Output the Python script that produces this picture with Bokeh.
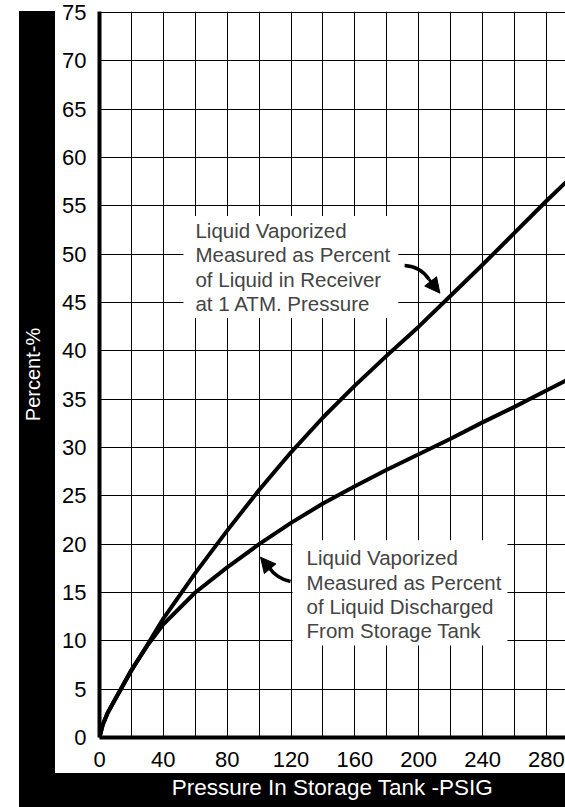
from bokeh.plotting import figure
from bokeh.models import FixedTicker, Label, Arrow, NormalHead, Range1d
from bokeh.embed import file_html
from bokeh.resources import INLINE

# ---- data ----
pressure = [0, 2, 5, 10, 20, 30, 40, 60, 80, 100, 120, 140, 160, 180, 200, 220, 240, 260, 280, 292]
pct_receiver = [0, 1.3, 2.5, 4.0, 6.9, 9.6, 12.3, 17.0, 21.4, 25.6, 29.5, 33.1, 36.4, 39.5, 42.5, 45.7, 48.9, 52.2, 55.5, 57.4]
pct_discharged = [0, 1.3, 2.5, 4.0, 7.0, 9.5, 11.7, 15.0, 17.6, 20.0, 22.2, 24.2, 26.0, 27.7, 29.3, 30.9, 32.6, 34.2, 35.9, 36.9]

x_tick_labels = [0, 40, 80, 120, 160, 200, 240, 280]
x_grid_ticks = [0, 20, 40, 60, 80, 100, 120, 140, 160, 180, 200, 220, 240, 260, 280]
y_tick_labels = [0, 5, 10, 15, 20, 25, 30, 35, 40, 45, 50, 55, 60, 65, 70, 75]

note_receiver = "Liquid Vaporized\nMeasured as Percent\nof Liquid in Receiver\nat 1 ATM. Pressure"
note_discharged = "Liquid Vaporized\nMeasured as Percent\nof Liquid Discharged\nFrom Storage Tank"

# annotation placement (data units; top-left corner of the white box)
note1_pos = (52.6, 53.95)
note2_pos = (121.0, 20.4)
arrow1 = dict(tail=(191.2, 48.83), ctrl=(201.2, 48.72), base=(206.4, 47.41), tip=(213.3, 45.96))
arrow2 = dict(tail=(119.7, 16.14), ctrl=(111.0, 16.45), base=(106.1, 17.62), tip=(100.9, 18.65))

FONT = "Liberation Sans"

p = figure(width=565, height=807, output_backend="svg", toolbar_location=None,
           x_range=Range1d(0, 292), y_range=Range1d(0, 75.1),
           min_border_left=99, min_border_right=0, min_border_top=11, min_border_bottom=70)
p.border_fill_color = None
p.background_fill_color = "white"
p.outline_line_color = None
p.styles = {
    "background": "linear-gradient(#000,#000) 19px 11px / 36px 796px no-repeat, "
                  "linear-gradient(#000,#000) 19px 773px / 546px 34px no-repeat, #fff"
}

# grid
p.xgrid.ticker = FixedTicker(ticks=x_grid_ticks)
p.ygrid.ticker = FixedTicker(ticks=y_tick_labels)
for g in (p.xgrid, p.ygrid):
    g.grid_line_color = "black"
    g.grid_line_width = 1
    g.grid_line_alpha = 1

# axes
p.xaxis.ticker = FixedTicker(ticks=x_tick_labels)
p.yaxis.ticker = FixedTicker(ticks=y_tick_labels)
for ax in (p.xaxis, p.yaxis):
    ax.axis_line_width = 4
    ax.axis_line_color = "black"
    ax.major_tick_in = 0
    ax.major_tick_out = 0
    ax.minor_tick_line_color = None
    ax.major_label_text_font = FONT
    ax.major_label_text_font_size = "22px"
    ax.major_label_text_color = "black"
    ax.axis_label_text_font = FONT
    ax.axis_label_text_font_style = "normal"
    ax.axis_label_text_color = "white"

p.xaxis.axis_label = "Pressure In Storage Tank -PSIG"
p.xaxis.axis_label_text_font_size = "22.5px"
p.xaxis.major_label_standoff = 14
p.xaxis.axis_label_standoff = 5

p.yaxis.axis_label = "Percent-%"
p.yaxis.axis_label_text_font_size = "20px"
p.yaxis.major_label_standoff = 13
p.yaxis.axis_label_standoff = 15

# curves
p.line(pressure, pct_receiver, line_color="black", line_width=4, line_cap="round", line_join="round")
p.line(pressure, pct_discharged, line_color="black", line_width=4, line_cap="round", line_join="round")

# notes
for txt, (nx, ny), pad in ((note_receiver, note1_pos, dict(left=12, right=8, top=3, bottom=3)),
                           (note_discharged, note2_pos, dict(left=14, right=6, top=6, bottom=3))):
    lab = Label(x=nx, y=ny, text=txt, text_font=FONT, text_font_size="20.5px",
                text_align="left", text_baseline="top", text_line_height=1.06,
                background_fill_color="white", background_fill_alpha=1.0, padding=pad)
    p.add_layout(lab)

# curved arrows
for a in (arrow1, arrow2):
    p.quadratic(x0=[a["tail"][0]], y0=[a["tail"][1]], x1=[a["base"][0]], y1=[a["base"][1]],
                cx=[a["ctrl"][0]], cy=[a["ctrl"][1]], line_color="black", line_width=3.5)
    p.add_layout(Arrow(end=NormalHead(size=15, fill_color="black", line_color="black", line_width=1),
                       x_start=a["base"][0], y_start=a["base"][1], x_end=a["tip"][0], y_end=a["tip"][1],
                       line_color="black", line_width=3))

open("out.html", "w").write(file_html(p, INLINE))
